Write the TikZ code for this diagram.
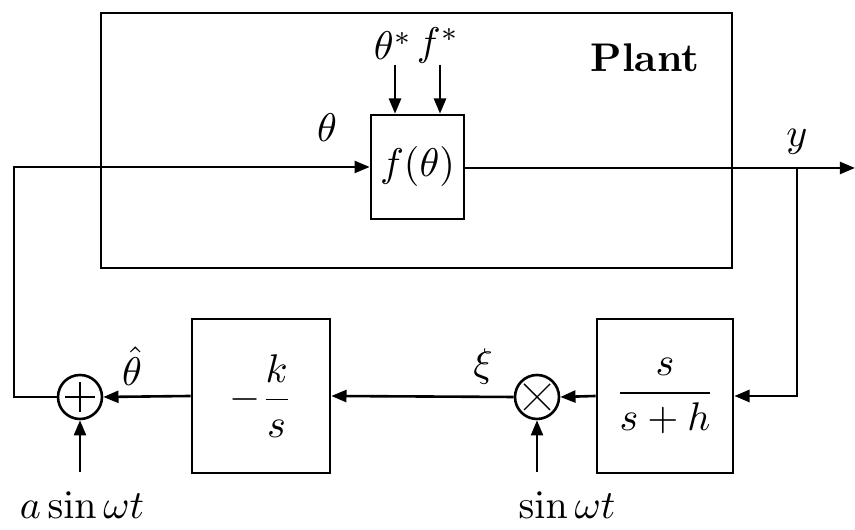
\documentclass[tikz,border=0pt]{standalone}
\usepackage{amsmath}
\usetikzlibrary{arrows.meta,calc}
\begin{document}
\begin{tikzpicture}[x=0.25pt,y=-0.25pt,
  line width=0.65pt,
  big/.style={font=\fontsize{10}{12}\selectfont},
  blk/.style={draw,rectangle,inner sep=0pt,line width=0.65pt},
  jn/.style={draw,circle,inner sep=0pt,minimum size=11pt,line width=0.65pt},
  arr/.style={-{Triangle[length=3.8pt,width=3pt]}},
  lbl/.style={big,inner sep=0pt}]
\useasboundingbox (0,0) rectangle (855,530);
% Plant box
\node[blk,minimum width=157.75pt,minimum height=63.75pt] (plant) at (416.5,140.5) {};
\node[inner sep=0pt,font=\fontsize{10}{12}\selectfont\bfseries] (plantlbl) at (645,58) {Plant};
% f block
\node[blk,big,minimum width=23.25pt,minimum height=26pt] (f) at (417.5,167) {$f(\theta)$};
\node[lbl] (thstar) at (393,46) {$\theta^{*}$};
\node[lbl] (fstar) at (438,46) {$f^{*}$};
\coordinate (thsin) at (395,65);
\coordinate (fsin) at (440,65);
\draw[arr] (thsin) -- (thsin |- f.north);
\draw[arr] (fsin) -- (fsin |- f.north);
\node[lbl] (thlbl) at (327,128) {$\theta$};
% output
\coordinate (br) at (797,168);
\coordinate (out) at (855,168);
\draw[arr] (f.east |- br) -- (out);
\node[lbl] (ylbl) at (797,142) {$y$};
% lower blocks
\node[blk,big,minimum width=34pt,minimum height=38.5pt] (hp) at (665,396) {$\dfrac{s}{s+h}$};
\node[blk,big,minimum width=34.5pt,minimum height=38.5pt] (int) at (261,396) {$-\dfrac{k}{s}$};
\node[jn] (mul) at (537,397) {};
\node[jn] (sum) at (80,397) {};
\draw[line width=0.35pt] ($(mul.center)+(-13,-13)$) -- ($(mul.center)+(13,13)$);
\draw[line width=0.35pt] ($(mul.center)+(-13,13)$) -- ($(mul.center)+(13,-13)$);
\draw[line width=0.35pt] ($(sum.center)+(-15,0)$) -- ($(sum.center)+(15,0)$);
\draw[line width=0.35pt] ($(sum.center)+(0,-15)$) -- ($(sum.center)+(0,15)$);
% feedback path
\draw[arr] (br) |- (hp.east);
\draw[arr] (hp.west) -- (mul.east);
\draw[arr] (mul.west) -- (int.east);
\draw[arr] (int.west) -- (sum.east);
\coordinate (lc) at (14,397);
\draw[arr] (sum.west) -- (lc) |- (f.west);
% inputs
\coordinate (sin1) at (537,472);
\coordinate (sin2) at (80,472);
\draw[arr] (sin1) -- (mul.south);
\draw[arr] (sin2) -- (sum.south);
\node[lbl] (sinlbl) at (567,505) {$\sin\omega t$};
\node[lbl] (asinlbl) at (82,505) {$a\sin\omega t$};
\node[lbl] (xilbl) at (483,367) {$\xi$};
\node[lbl] (thhat) at (132,366) {$\hat{\theta}$};
\end{tikzpicture}
\end{document}
